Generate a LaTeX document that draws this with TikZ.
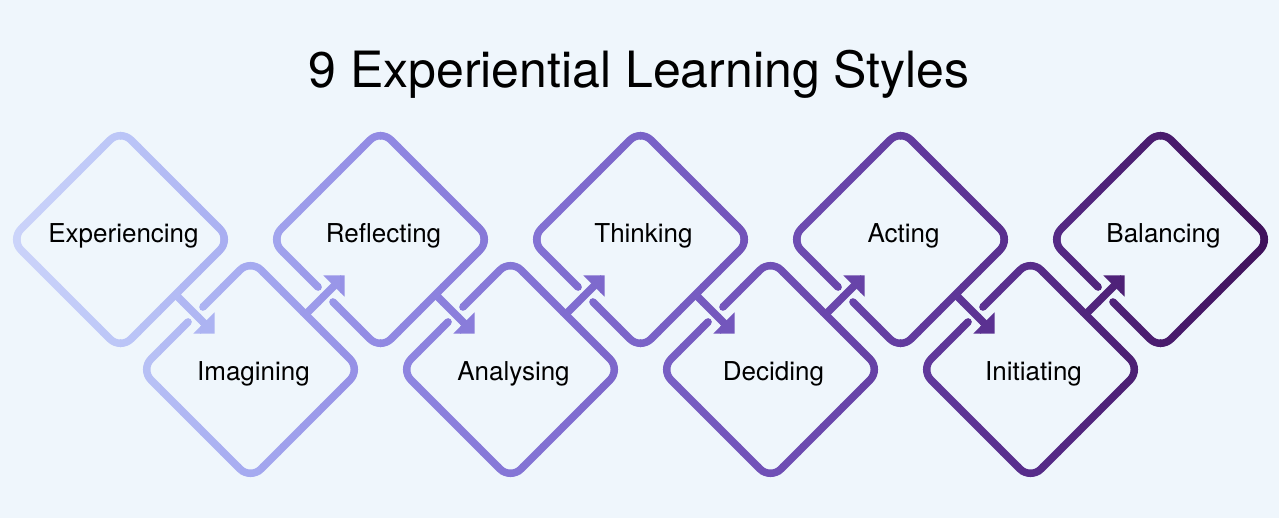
\documentclass[tikz,border=0pt]{standalone}
\usepackage{fontspec}
\setmainfont{TeX Gyre Heros}
\usetikzlibrary{calc}
\definecolor{bgc}{RGB}{239,246,252}
\definecolor{c0}{RGB}{206,214,250}
\definecolor{c1}{RGB}{188,198,247}
\definecolor{c2}{RGB}{165,170,240}
\definecolor{c3}{RGB}{145,137,227}
\definecolor{c4}{RGB}{133,118,214}
\definecolor{c5}{RGB}{122,99,200}
\definecolor{c6}{RGB}{112,80,182}
\definecolor{c7}{RGB}{99,60,160}
\definecolor{c8}{RGB}{87,44,138}
\definecolor{c9}{RGB}{74,28,110}
\definecolor{c10}{RGB}{62,16,88}
\tikzset{
  dmd/.style={line width=7.5pt, rounded corners=15pt, line cap=round, line join=round},
  shft/.style={line width=7.5pt, line cap=butt},
  lbl/.style={anchor=base, font=\fontsize{26}{30}\selectfont, text=black},
  ttl/.style={anchor=base, font=\fontsize{50}{60}\selectfont, text=black},
}
\newcommand\drawstructure{%
  \draw[dmd] (Q0) -- (R0) -- (B0) -- (L0) -- (T0) -- cycle;
  \foreach \i in {1,3,5,7}{\draw[dmd] (G1\i) -- (T\i) -- (R\i) -- (B\i) -- (L\i) -- (G2\i);}
  \foreach \i in {2,4,6,8}{\draw[dmd] (G1\i) -- (L\i) -- (T\i) -- (R\i) -- (B\i) -- (G2\i);}
  \foreach \i in {0,...,7}{\draw[shft] (S\i) -- (E\i); \fill (H1\i) -- (P\i) -- (H2\i) -- cycle;}
}
\begin{document}
\begin{tikzpicture}[x=1pt,y=-1pt]
\fill[bgc] (0,0) rectangle (1279,518);
\useasboundingbox (0,0) rectangle (1279,518);
% diamond vertices
\foreach \i in {0,...,8}{
  \pgfmathsetmacro\cx{120.5+130*\i}
  \pgfmathsetmacro\cy{isodd(\i) ? 369.5 : 239.5}
  \coordinate (T\i) at (\cx,\cy-110);
  \coordinate (R\i) at (\cx+110,\cy);
  \coordinate (B\i) at (\cx,\cy+110);
  \coordinate (L\i) at (\cx-110,\cy);
}
\coordinate (Q0) at ($(T0)!0.5!(R0)$);
% gaps (target edges) and source midpoints
\foreach \i in {1,3,5,7}{
  \coordinate (M\i) at ($(L\i)!0.5!(T\i)$);
  \coordinate (G1\i) at ($(M\i)!10.5pt!(T\i)$);
  \coordinate (G2\i) at ($(M\i)!10.5pt!(L\i)$);
  \coordinate (S\i) at ($(T\i)!0.5!(R\i)$);
}
\foreach \i in {2,4,6,8}{
  \coordinate (M\i) at ($(B\i)!0.5!(L\i)$);
  \coordinate (G1\i) at ($(M\i)!10.5pt!(L\i)$);
  \coordinate (G2\i) at ($(M\i)!10.5pt!(B\i)$);
}
\foreach \i in {0,2,4,6}{
  \coordinate (S\i) at ($(R\i)!0.5!(B\i)$);
}
% arrows
\foreach \i in {0,...,7}{
  \pgfmathtruncatemacro\j{\i+1}
  \coordinate (P\i) at ($(M\j)!-27pt!(S\i)$);
  \coordinate (A\i) at ($(M\j)!-12pt!(S\i)$);
  \coordinate (E\i) at ($(M\j)!-13.5pt!(S\i)$);
  \coordinate (H1\i) at ($(A\i)!15pt!90:(P\i)$);
  \coordinate (H2\i) at ($(A\i)!15pt!-90:(P\i)$);
}
% gradient strokes, drawn in vertical strips
\foreach \s in {0,...,63}{
  \pgfmathsetmacro\xa{20*\s}
  \pgfmathsetmacro\xm{\xa+10}
  \pgfmathtruncatemacro\k{floor((\xm+9.5)/130)}
  \pgfmathtruncatemacro\kk{\k+1}
  \pgfmathtruncatemacro\p{round(100*(1-(\xm+9.5-130*\k)/130))}
  \begin{scope}
    \clip (\xa,0) rectangle (\xa+21,518);
    \begin{scope}[color=c\k!\p!c\kk]
      \drawstructure
    \end{scope}
  \end{scope}
}
% labels
\foreach \t [count=\n from 0] in {Experiencing,Imagining,Reflecting,Analysing,Thinking,Deciding,Acting,Initiating,Balancing}{
  \pgfmathsetmacro\lx{123.5+130*\n}
  \pgfmathsetmacro\ly{isodd(\n) ? 380 : 242.5}
  \node[lbl] (n\n) at (\lx,\ly) {\t};
}
\node[ttl] (title) at (639,88) {9 Experiential Learning Styles};
\end{tikzpicture}
\end{document}
